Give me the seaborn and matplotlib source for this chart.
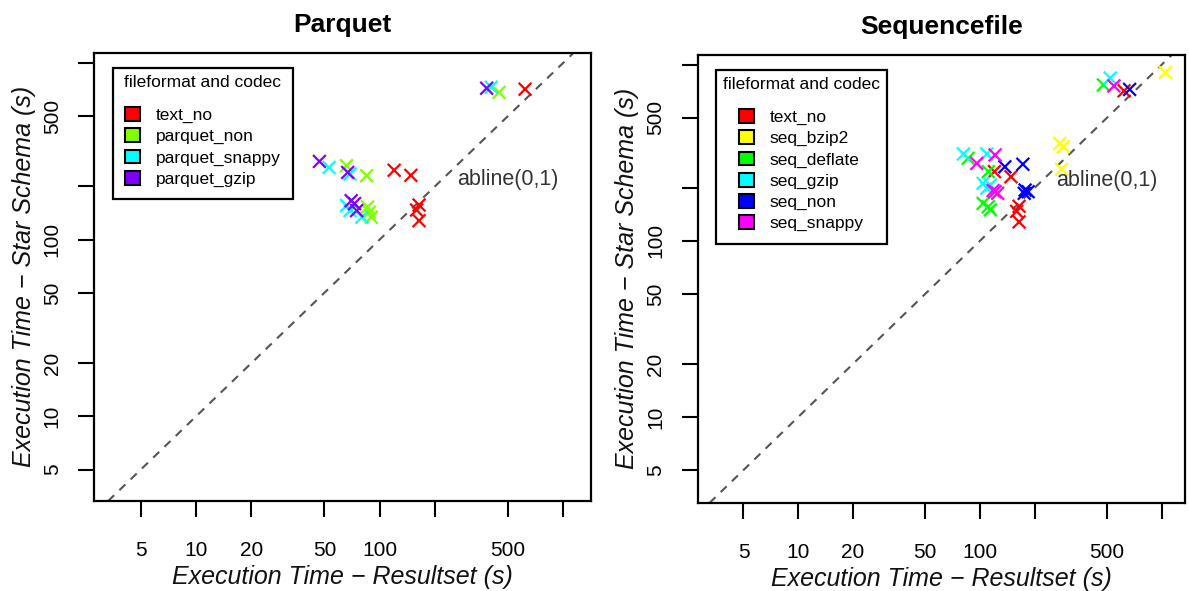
import matplotlib
matplotlib.use("Agg")
import matplotlib.pyplot as plt
from matplotlib.patches import Patch
from matplotlib.ticker import NullLocator
import pandas as pd
import seaborn as sns

# Execution times in seconds: (resultset, star schema) per query
text_no_x = [620, 120, 148, 164, 159, 164]
text_no_y = [710, 247, 231, 157, 147, 128]

parquet_non_x = [447, 66, 85, 86, 88, 90]
parquet_non_y = [681, 262, 230, 153, 143, 134]
parquet_snappy_x = [406, 53, 69, 66, 69, 80]
parquet_snappy_y = [729, 256, 235, 156, 146, 134]
parquet_gzip_x = [383, 47, 67, 70, 73, 75]
parquet_gzip_y = [719, 277, 240, 166, 160, 146]

seq_bzip2_x = [1045, 275, 287, 281]
seq_bzip2_y = [903, 357, 342, 255]
seq_deflate_x = [477, 86, 111, 104, 111, 114]
seq_deflate_y = [767, 294, 247, 163, 156, 150]
seq_gzip_x = [520, 81, 109, 104, 109, 114]
seq_gzip_y = [839, 311, 311, 212, 199, 207]
seq_non_x = [665, 137, 172, 177, 184, 175]
seq_non_y = [723, 263, 272, 194, 190, 186]
seq_snappy_x = [545, 96, 121, 121, 125, 118]
seq_snappy_y = [757, 275, 307, 190, 186, 193]

tick_values = [5, 10, 20, 50, 100, 200, 500, 1000]
tick_labels = ["5", "10", "20", "50", "100", "", "500", ""]

parquet_series = {
    "text_no": (text_no_x, text_no_y, "#FF0000"),
    "parquet_non": (parquet_non_x, parquet_non_y, "#80FF00"),
    "parquet_snappy": (parquet_snappy_x, parquet_snappy_y, "#00FFFF"),
    "parquet_gzip": (parquet_gzip_x, parquet_gzip_y, "#8000FF"),
}
seq_series = {
    "text_no": (text_no_x, text_no_y, "#FF0000"),
    "seq_bzip2": (seq_bzip2_x, seq_bzip2_y, "#FFFF00"),
    "seq_deflate": (seq_deflate_x, seq_deflate_y, "#00FF00"),
    "seq_gzip": (seq_gzip_x, seq_gzip_y, "#00FFFF"),
    "seq_non": (seq_non_x, seq_non_y, "#0000FF"),
    "seq_snappy": (seq_snappy_x, seq_snappy_y, "#FF00FF"),
}

sns.set_theme(style="white")
plt.rcParams["font.family"] = ["Liberation Sans", "DejaVu Sans"]

W, H = 1189, 591
fig = plt.figure(figsize=(W / 100, H / 100), dpi=100)
ax1 = fig.add_axes([94.3 / W, 1 - 501 / H, (591 - 94.3) / W, (501 - 52.7) / H])
ax2 = fig.add_axes([697.7 / W, 1 - 503 / H, (1185 - 697.7) / W, (503 - 54.7) / H])


def draw_panel(ax, series, title, xlim, ylim):
    frames = []
    for name, (xs, ys, _) in series.items():
        frames.append(pd.DataFrame({"x": xs, "y": ys, "codec": name}))
    df = pd.concat(frames, ignore_index=True)
    palette = {name: c for name, (_, _, c) in series.items()}

    ax.set_xscale("log")
    ax.set_yscale("log")
    ax.axline((1, 1), (10, 10), color="#555555", lw=1.5, ls=(0, (4, 3.5)), zorder=2)
    sns.scatterplot(data=df, x="x", y="y", hue="codec", palette=palette,
                    marker="x", s=85, linewidth=1.6, legend=False, ax=ax, zorder=3)
    ax.set_xlim(*xlim)
    ax.set_ylim(*ylim)

    ax.set_xticks(tick_values)
    ax.set_xticklabels(tick_labels)
    ax.set_yticks(tick_values)
    ax.set_yticklabels(tick_labels)
    ax.xaxis.set_minor_locator(NullLocator())
    ax.yaxis.set_minor_locator(NullLocator())
    ax.tick_params(axis="both", direction="out", length=11.5, width=1.5,
                   color="black", labelsize=15, labelcolor="black")
    ax.tick_params(axis="x", pad=17, bottom=True)
    ax.tick_params(axis="y", pad=12, left=True)
    for lab in ax.get_yticklabels():
        lab.set_rotation(90)
        lab.set_va("center")

    for sp in ax.spines.values():
        sp.set_visible(True)
        sp.set_color("black")
        sp.set_linewidth(1.6)

    ax.set_xlabel("Execution Time − Resultset (s)", fontsize=18, style="italic",
                  labelpad=4, color="#111111")
    ax.set_ylabel("Execution Time − Star Schema (s)", fontsize=18, style="italic",
                  labelpad=5, color="#111111")
    ax.set_title(title, fontsize=19, fontweight="bold", pad=15, color="black")

    ax.text(500, 220, "abline(0,1)", ha="center", va="center", fontsize=15.5,
            color="#333333", zorder=4)

    handles = [Patch(facecolor=c, edgecolor="black", linewidth=1.5, label=name)
               for name, (_, _, c) in series.items()]
    leg = ax.legend(handles=handles, title="fileformat and codec", loc="upper left",
                    bbox_to_anchor=(0.037, 0.965), borderaxespad=0, frameon=True,
                    fancybox=False, edgecolor="black", framealpha=1, fontsize=12.5,
                    title_fontsize=12.5, handlelength=0.85, handleheight=0.85,
                    labelspacing=0.3, borderpad=0.4, handletextpad=0.9,
                    alignment="center")
    leg.get_frame().set_linewidth(1.6)
    # indent the entries inside the frame and open a gap below the centred title
    leg._legend_handle_box.pad = 4.0
    leg._legend_box.sep = 8.0
    for t in leg.get_texts():
        t.set_color("black")
    leg.get_title().set_color("black")


draw_panel(ax1, parquet_series, "Parquet", (2.79, 1418), (3.32, 1142))
draw_panel(ax2, seq_series, "Sequencefile", (2.80, 1341), (3.25, 1138))

fig.savefig("out.png", dpi=100)
